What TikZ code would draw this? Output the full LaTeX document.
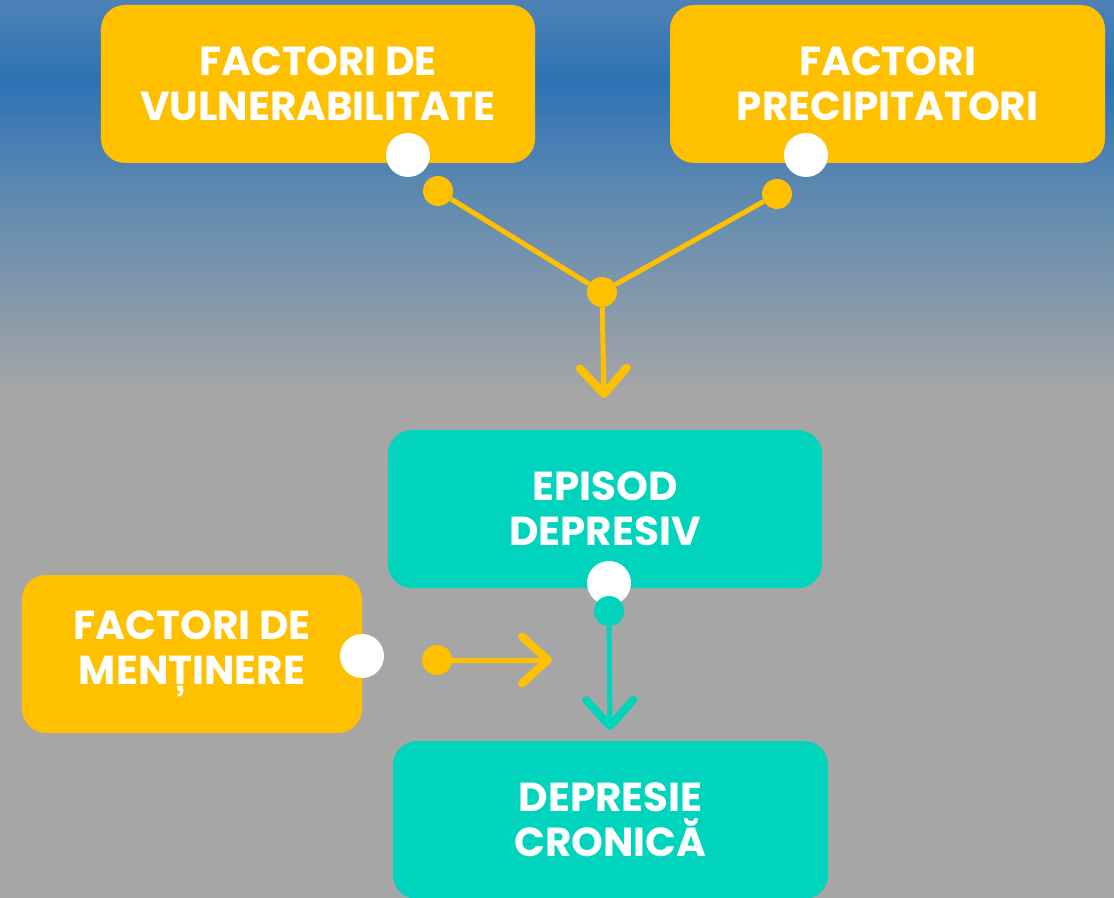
\documentclass[tikz,border=0pt]{standalone}
\usepackage{fontspec}
\setmainfont{Poppins}
\usetikzlibrary{arrows.meta}
\definecolor{amber}{RGB}{255,192,0}
\definecolor{aqua}{RGB}{0,212,188}
\definecolor{skyA}{RGB}{78,130,182}
\definecolor{skyB}{RGB}{46,114,180}
\definecolor{skyC}{RGB}{95,138,176}
\definecolor{ash}{RGB}{166,166,166}
\pgfdeclareverticalshading{sky}{100bp}{color(0bp)=(ash); color(53bp)=(ash); color(64bp)=(skyC); color(70.5bp)=(skyB); color(75bp)=(skyA); color(100bp)=(skyA)}

\begin{document}
\begin{tikzpicture}[x=0.25mm,y=-0.25mm]
        \tikzstyle{every node}+=[inner sep=0pt]
        \tikzstyle{card}=[rectangle, rounded corners=6mm, minimum height=39.5mm, align=center, text=white, font=\fontsize{28.8}{32}\selectfont\bfseries]
        \tikzstyle{hole}=[circle, fill=white, minimum size=11mm]
        \tikzstyle{pin}=[circle, minimum size=7.5mm]
        \tikzstyle{link}=[line width=1.25mm]
        \tikzstyle{tip}=[-{Straight Barb[length=6.5mm, width=11.75mm, line width=2mm, round]}]
        % background
        \shade[shading=sky] (0,0) rectangle (1114,898);
        \useasboundingbox (0,0) rectangle (1114,898);
        % boxes
        \node[card, fill=amber, minimum width=108.5mm] (vuln) at (318,84) {FACTORI DE\\VULNERABILITATE};
        \node[card, fill=amber, minimum width=108.75mm] (prec) at (887.5,84) {FACTORI\\PRECIPITATORI};
        \node[card, fill=aqua, minimum width=108.5mm] (episod) at (605,509) {EPISOD\\DEPRESIV};
        \node[card, fill=aqua, minimum width=108.75mm] (cronic) at (610.5,820) {DEPRESIE\\CRONICĂ};
        \node[card, fill=amber, minimum width=85mm] (mentin) at (192,654) {FACTORI DE\\MENȚINERE};
        % ports
        \node[hole] (vulnout) at (408,155) {};
        \node[hole] (precout) at (806,155) {};
        \node[hole] (episodout) at (609,583) {};
        \node[hole] (mentinout) at (362,656) {};
        % connectors
        \node[pin] (vulnpin) at (438,191) {};
        \node[pin] (precpin) at (777,194) {};
        \node[pin] (join) at (602,292) {};
        \node[pin] (mentinpin) at (437,660) {};
        \node[pin] (episodpin) at (609,611) {};
        \coordinate (joinend) at (604,398);
        \coordinate (mentinend) at (552,660);
        \coordinate (episodend) at (610,730);
        \draw[link, amber] (vulnpin) -- (join);
        \draw[link, amber] (precpin) -- (join);
        \draw[link, tip, amber] (join) -- (joinend);
        \draw[link, tip, amber] (mentinpin) -- (mentinend);
        \draw[link, tip, aqua] (episodpin) -- (episodend);
        \fill[amber] (vulnpin) circle (15);
        \fill[amber] (precpin) circle (15);
        \fill[amber] (join) circle (15);
        \fill[amber] (mentinpin) circle (15);
        \fill[aqua] (episodpin) circle (15);
    \end{tikzpicture}
\end{document}
